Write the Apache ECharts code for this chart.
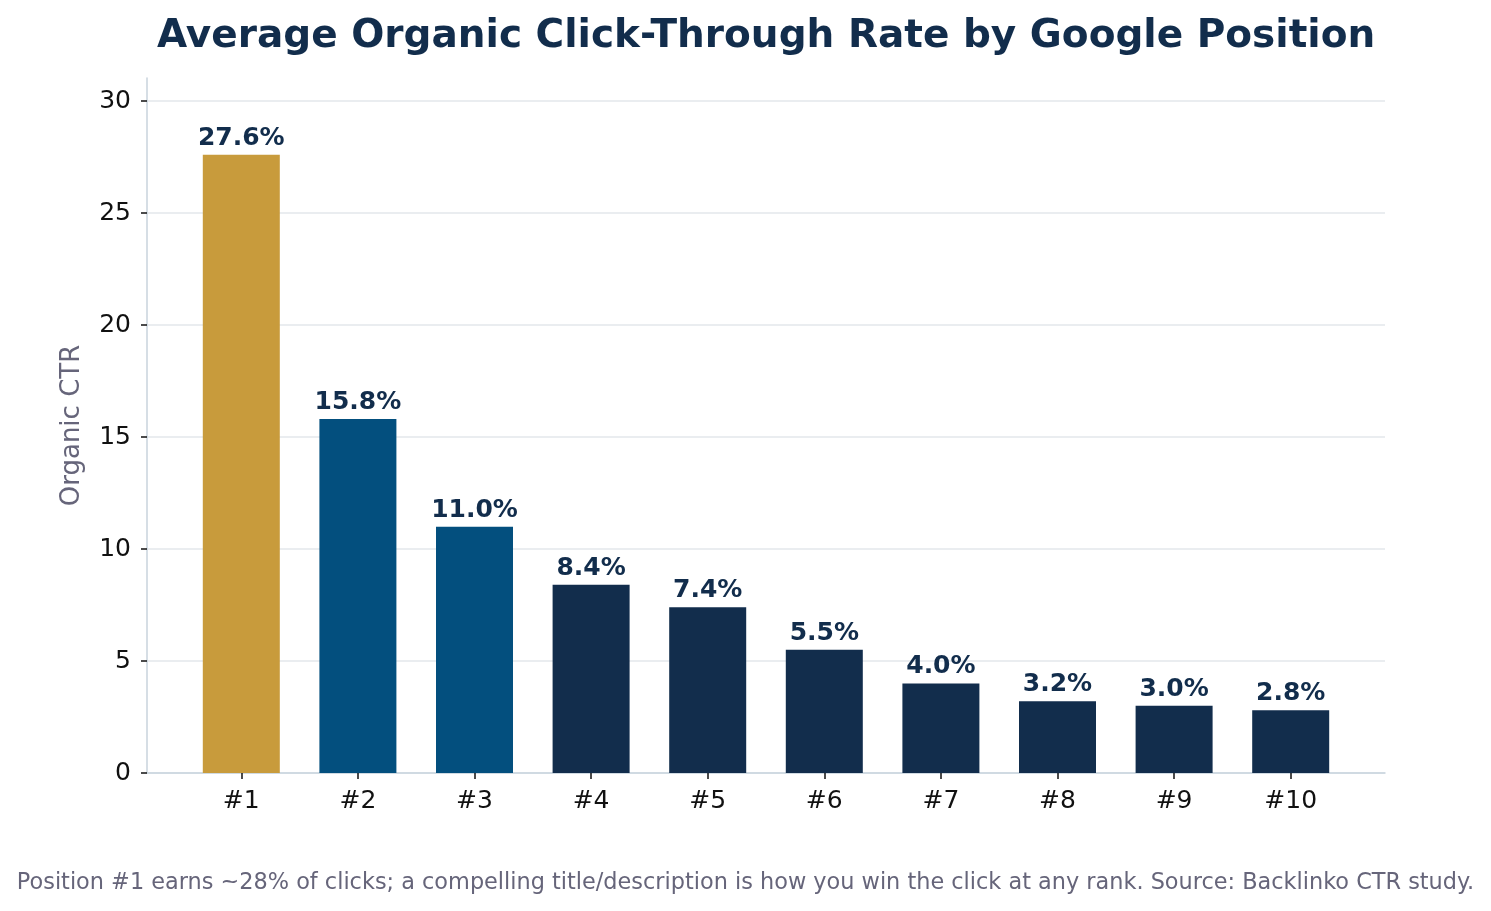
<!DOCTYPE html>
<html>
<head>
<meta charset="utf-8">
<script src="https://cdn.jsdelivr.net/npm/echarts@6/dist/echarts.min.js"></script>
<style>
  html, body { margin: 0; padding: 0; background: #fff; }
  #main { width: 1491px; height: 911px; }
</style>
</head>
<body>
<div id="main"></div>
<script>
// data
const positions = ['#1', '#2', '#3', '#4', '#5', '#6', '#7', '#8', '#9', '#10'];
const ctrValues = [27.6, 15.8, 11.0, 8.4, 7.4, 5.5, 4.0, 3.2, 3.0, 2.8];
const barColors = ['#C89B3C', '#034F7E', '#034F7E', '#122D4C', '#122D4C', '#122D4C', '#122D4C', '#122D4C', '#122D4C', '#122D4C'];
const yTickMax = 30;
const yTickStep = 5;

const font = 'DejaVu Sans';
const navy = '#122D4C';
const yTop = 31.03; // data range of the plot frame

const chart = echarts.init(document.getElementById('main'));

const option = {
    animation: false,
    textStyle: { fontFamily: font },
    title: {
        text: 'Average Organic Click-Through Rate by Google Position',
        left: 152,
        top: 12,
        textStyle: { fontFamily: font, fontSize: 39, fontWeight: 'bold', color: navy }
    },
    graphic: [{
        type: 'text',
        left: 'center',
        top: 872,
        style: {
            text: 'Position #1 earns ~28% of clicks; a compelling title/description is how you win the click at any rank. Source: Backlinko CTR study.',
            font: '22.4px "DejaVu Sans"',
            fill: '#66657A'
        }
    }],
    // grid 0: frame lines; grid 1: bars with side margins; grid 2: y ticks + gridlines up to 30
    grid: [
        { left: 147, right: 106, top: 78, bottom: 138 },
        { left: 183, right: 142, top: 78, bottom: 138 },
        { left: 147, right: 106, top: 101, bottom: 138 }
    ],
    xAxis: [
        {
            type: 'value', gridIndex: 0, min: 0, max: 1,
            axisLine: { show: true, lineStyle: { color: '#C8D3DD', width: 1.5 } },
            axisTick: { show: false }, axisLabel: { show: false }, splitLine: { show: false }
        },
        {
            type: 'category', gridIndex: 1, data: positions,
            axisLine: { show: false },
            axisTick: { show: true, alignWithLabel: true, length: 6, lineStyle: { color: '#111', width: 1.5 } },
            axisLabel: { fontFamily: font, fontSize: 25, color: '#111', margin: 16 }
        },
        { type: 'value', gridIndex: 2, min: 0, max: 1, show: false }
    ],
    yAxis: [
        {
            type: 'value', gridIndex: 0, min: 0, max: yTop,
            name: 'Organic CTR', nameLocation: 'middle', nameGap: 62,
            nameTextStyle: { fontFamily: font, fontSize: 26, color: '#66657A' },
            axisLine: { show: true, lineStyle: { color: '#C8D3DD', width: 1.5 } },
            axisTick: { show: false }, axisLabel: { show: false }, splitLine: { show: false }
        },
        { type: 'value', gridIndex: 1, min: 0, max: yTop, show: false },
        {
            type: 'value', gridIndex: 2, min: 0, max: yTickMax, interval: yTickStep,
            axisLine: { show: false },
            axisTick: { show: true, length: 6, lineStyle: { color: '#111', width: 1.5 } },
            axisLabel: { fontFamily: font, fontSize: 25, color: '#111', margin: 16 },
            splitLine: { show: true, lineStyle: { color: '#E3E7EB', width: 1.5 } }
        }
    ],
    series: [{
        type: 'bar',
        xAxisIndex: 1,
        yAxisIndex: 1,
        barWidth: 77,
        data: ctrValues.map((v, i) => ({ value: v, itemStyle: { color: barColors[i] } })),
        label: {
            show: true,
            position: 'top',
            distance: 4,
            formatter: p => p.value.toFixed(1) + '%',
            fontFamily: font, fontSize: 25, fontWeight: 'bold', color: navy
        }
    }]
};

chart.setOption(option);
</script>
</body>
</html>
